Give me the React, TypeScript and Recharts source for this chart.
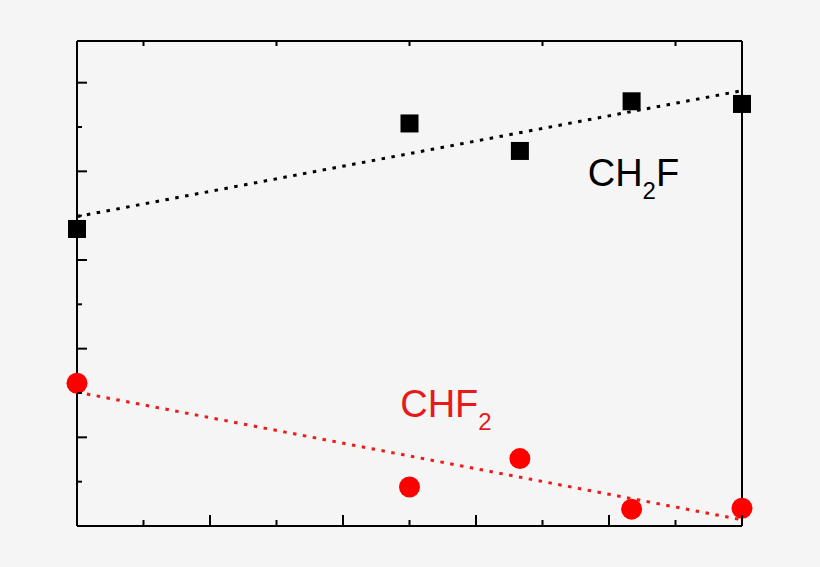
import React from 'react';
import {
  ComposedChart,
  Scatter,
  Line,
  XAxis,
  YAxis,
  ReferenceDot,
} from 'recharts';

// sample positions along x (arbitrary units, no tick labels in the figure)
const xSamples = [0, 2.5, 3.33, 4.17, 5];
const ch2fValues = [3.35, 4.54, 4.23, 4.79, 4.76];
const chf2Values = [1.61, 0.44, 0.76, 0.19, 0.2];

// linear fit end points
const fitX = [0, 5];
const ch2fFit = [3.49, 4.91];
const chf2Fit = [1.51, 0.07];

const bottomTicks = [0, 0.5, 1, 1.5, 2, 2.5, 3, 3.5, 4, 4.5, 5];
const topTicks = [0.5, 1.5, 2.5, 3.5, 4.5];
const leftTicks = [0, 0.5, 1, 1.5, 2, 2.5, 3, 3.5, 4, 4.5, 5];

const ch2fPoints = xSamples.map((x, i) => ({ x, y: ch2fValues[i] }));
const chf2Points = xSamples.map((x, i) => ({ x, y: chf2Values[i] }));
const ch2fLine = fitX.map((x, i) => ({ x, y: ch2fFit[i] }));
const chf2Line = fitX.map((x, i) => ({ x, y: chf2Fit[i] }));

const FONT = '"Liberation Sans", Arial, sans-serif';
const RED = '#ff0000';

// axes are 1px thick boxes so recharts still draws them
const BottomTick = (props: any) => {
  const { x, y, payload } = props;
  const len = Number.isInteger(payload.value) ? 10 : 5;
  return <line x1={x} y1={y - 1} x2={x} y2={y - 1 - len} stroke="#000" strokeWidth={2} />;
};

const TopTick = (props: any) => {
  const { x, y } = props;
  return <line x1={x} y1={y} x2={x} y2={y + 5} stroke="#000" strokeWidth={2} />;
};

const LeftTick = (props: any) => {
  const { x, y, payload } = props;
  const len = Number.isInteger(payload.value) ? 10 : 5;
  return <line x1={x} y1={y} x2={x + len} y2={y} stroke="#000" strokeWidth={2} />;
};

const Square = (props: any) => {
  const { cx, cy } = props;
  return <rect x={cx - 9} y={cy - 9} width={18} height={18} fill="#000" />;
};

const Circle = (props: any) => {
  const { cx, cy } = props;
  return <circle cx={cx} cy={cy} r={10.5} fill={RED} />;
};

const formulaLabel = (main: string, sub: string, tail: string, color: string) => (props: any) => {
  const vb = props.viewBox || {};
  const x = vb.x + (vb.width || 0) / 2;
  const y = vb.y + (vb.height || 0) / 2;
  return (
    <text x={x} y={y} fill={color} fontFamily={FONT} fontSize={38}>
      {main}
      <tspan fontSize={24} dy={13}>{sub}</tspan>
      {tail ? <tspan dy={-13}>{tail}</tspan> : null}
    </text>
  );
};

export default function App() {
  return (
    <div
      style={{
        position: 'absolute',
        left: 0,
        top: 0,
        width: 820,
        height: 567,
        background: '#f5f5f5',
      }}
    >
      <ComposedChart
        width={820}
        height={567}
        margin={{ top: 40, right: 77, bottom: 40, left: 76 }}
      >
        <XAxis
          xAxisId="b"
          type="number"
          dataKey="x"
          domain={[0, 5]}
          ticks={bottomTicks}
          interval={0}
          height={1}
          tickSize={0}
          tickMargin={0}
          tickLine={false}
          tick={<BottomTick />}
          axisLine={{ stroke: '#000', strokeWidth: 2 }}
        />
        <XAxis
          xAxisId="t"
          orientation="top"
          type="number"
          dataKey="x"
          domain={[0, 5]}
          ticks={topTicks}
          interval={0}
          height={1}
          tickSize={0}
          tickMargin={0}
          tickLine={false}
          tick={<TopTick />}
          axisLine={{ stroke: '#000', strokeWidth: 2 }}
        />
        <YAxis
          yAxisId="l"
          type="number"
          dataKey="y"
          domain={[0, 5.47]}
          ticks={leftTicks}
          interval={0}
          width={1}
          tickSize={0}
          tickMargin={0}
          tickLine={false}
          tick={<LeftTick />}
          axisLine={{ stroke: '#000', strokeWidth: 2 }}
        />
        <YAxis
          yAxisId="r"
          orientation="right"
          type="number"
          dataKey="y"
          domain={[0, 5.47]}
          width={1}
          tick={false}
          tickLine={false}
          axisLine={{ stroke: '#000', strokeWidth: 2 }}
        />

        {/* fit lines are bound to the top axis (same scale) so it gets ticks */}
        <Line
          xAxisId="t"
          yAxisId="l"
          data={ch2fLine}
          dataKey="y"
          type="linear"
          stroke="#000"
          strokeWidth={3}
          strokeDasharray="3.5 6.5"
          dot={false}
          activeDot={false}
          isAnimationActive={false}
        />
        <Line
          xAxisId="t"
          yAxisId="r"
          data={chf2Line}
          dataKey="y"
          type="linear"
          stroke="#ea1c1c"
          strokeWidth={3}
          strokeDasharray="3.5 6.5"
          dot={false}
          activeDot={false}
          isAnimationActive={false}
        />

        <Scatter
          xAxisId="b"
          yAxisId="l"
          data={ch2fPoints}
          dataKey="y"
          shape={<Square />}
          isAnimationActive={false}
        />
        <Scatter
          xAxisId="b"
          yAxisId="l"
          data={chf2Points}
          dataKey="y"
          shape={<Circle />}
          isAnimationActive={false}
        />

        <ReferenceDot
          xAxisId="b"
          yAxisId="l"
          x={3.84}
          y={3.83}
          r={0}
          fill="none"
          stroke="none"
          label={formulaLabel('CH', '2', 'F', '#000')}
        />
        <ReferenceDot
          xAxisId="b"
          yAxisId="l"
          x={2.43}
          y={1.23}
          r={0}
          fill="none"
          stroke="none"
          label={formulaLabel('CHF', '2', '', '#e8191a')}
        />
      </ComposedChart>
    </div>
  );
}
